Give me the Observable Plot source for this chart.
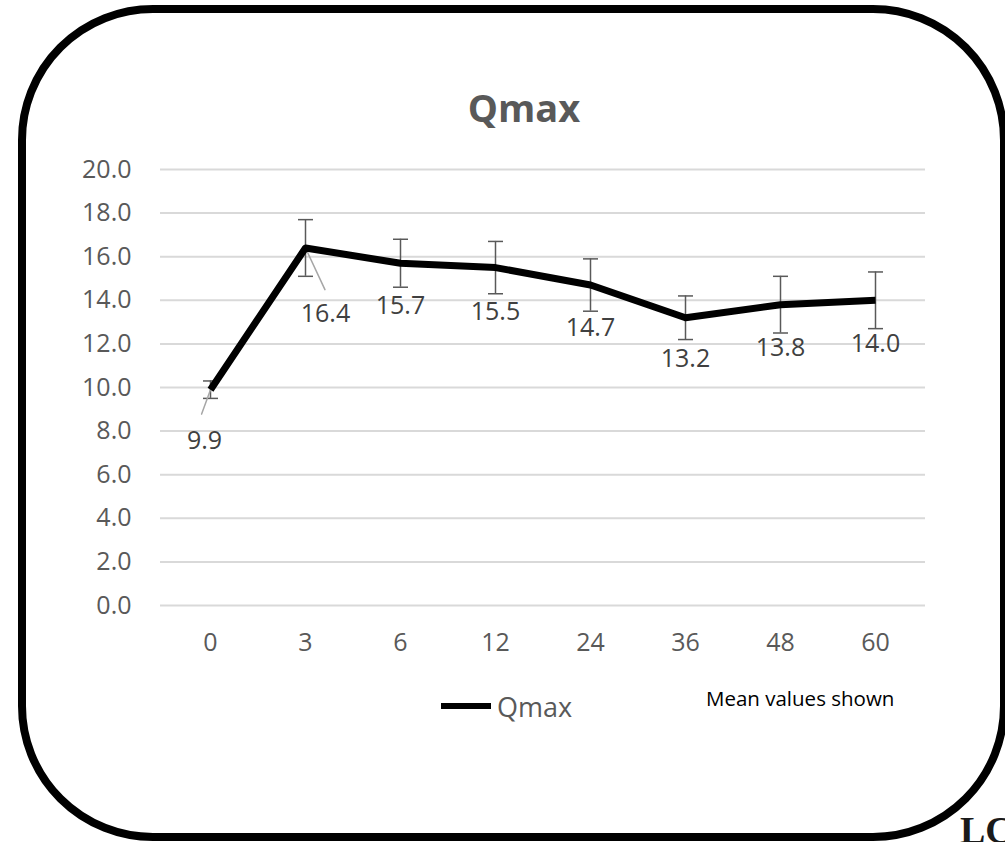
<!DOCTYPE html>
<html>
<head>
<meta charset="utf-8">
<script src="https://cdn.jsdelivr.net/npm/d3@7"></script>
<script src="https://cdn.jsdelivr.net/npm/@observablehq/plot@0.6"></script>
<style>
  html, body { margin: 0; padding: 0; background: #fff; }
  #page { position: relative; width: 1005px; height: 842px; overflow: hidden; background: #fff; font-family: "Open Sans", sans-serif; }
  #frame { position: absolute; left: 18px; top: 5px; width: 990px; height: 836px; box-sizing: border-box; border: 8px solid #000; border-radius: 135px; }
  #title { position: absolute; left: 0; width: 1048px; top: 88px; text-align: center; font-size: 38px; line-height: 1; font-weight: 700; color: #595959; }
  #chart { position: absolute; left: 0; top: 140px; }
  #legend-line { position: absolute; left: 441px; top: 703px; width: 50px; height: 6px; background: #000; }
  #legend-text { position: absolute; left: 497px; top: 693px; font-size: 27px; line-height: 1; color: #595959; }
  #note { position: absolute; left: 706px; top: 688px; font-size: 20.5px; line-height: 1; color: #000; }
  #corner { position: absolute; left: 960px; top: 811px; font-family: "Liberation Serif", serif; font-weight: 700; font-size: 38px; line-height: 1; color: #1a1a1a; }
</style>
</head>
<body>
<div id="page">
  <div id="frame"></div>
  <div id="title">Qmax</div>
  <div id="chart"></div>
  <div id="legend-line"></div>
  <div id="legend-text">Qmax</div>
  <div id="note">Mean values shown</div>
  <div id="corner">LC</div>
</div>
<script>
// ---- data ----
const months = ["0", "3", "6", "12", "24", "36", "48", "60"];
const qmax = [9.9, 16.4, 15.7, 15.5, 14.7, 13.2, 13.8, 14.0];
const errors = [0.4, 1.3, 1.1, 1.2, 1.2, 1.0, 1.3, 1.3];
const yTicks = [0, 2, 4, 6, 8, 10, 12, 14, 16, 18, 20];

// ---- label placement (styling, pixels) ----
const labelDx = [-6, 20, 0, 0, 0, 0, 0, 0];
const labelDy = [51, 66, 43, 44, 43, 41, 43, 44];

const data = months.map((m, i) => ({
  month: m, value: qmax[i], err: errors[i], dx: labelDx[i], dy: labelDy[i]
}));

const capSymbol = {
  draw(ctx) { ctx.moveTo(-7.5, 0); ctx.lineTo(7.5, 0); }
};
const plainLine = {
  draw(ctx, l) { ctx.moveTo(0, 0); ctx.lineTo(0, -l); }
};

const chart = Plot.plot({
  width: 1005,
  height: 540,
  marginTop: 29,
  marginBottom: 75,
  marginLeft: 160,
  marginRight: 80,
  style: { fontFamily: "Open Sans, sans-serif", fontSize: "25px", color: "#595959", background: "transparent", overflow: "visible" },
  x: { type: "point", domain: months, padding: 0.5, label: null },
  y: { domain: [0, 20], label: null },
  marks: [
    Plot.ruleY(yTicks, { stroke: "#d9d9d9", strokeWidth: 2 }),
    Plot.axisY({ ticks: yTicks, tickFormat: d => d.toFixed(1), tickSize: 0, tickPadding: 29, label: null }),
    Plot.axisX({ tickSize: 0, tickPadding: 28, label: null }),
    Plot.ruleX(data, { x: "month", y1: d => d.value - d.err, y2: d => d.value + d.err, stroke: "#595959", strokeWidth: 1.5 }),
    Plot.dot(data, { x: "month", y: d => d.value - d.err, symbol: capSymbol, stroke: "#595959", strokeWidth: 1.5, fill: "none", r: 5 }),
    Plot.dot(data, { x: "month", y: d => d.value + d.err, symbol: capSymbol, stroke: "#595959", strokeWidth: 1.5, fill: "none", r: 5 }),
    // leader lines for the two displaced labels
    Plot.vector(data.slice(0, 1), { x: "month", y: "value", length: 26, rotate: 200, anchor: "start", shape: plainLine, stroke: "#a6a6a6", strokeWidth: 1.5 }),
    Plot.vector(data.slice(1, 2), { x: "month", y: "value", length: 46, rotate: 155, anchor: "start", shape: plainLine, stroke: "#a6a6a6", strokeWidth: 1.5 }),
    Plot.line(data, { x: "month", y: "value", stroke: "#000", strokeWidth: 7, strokeLinejoin: "round", strokeLinecap: "butt" }),
    Plot.text(data, { x: "month", y: "value", text: d => d.value.toFixed(1), fill: "#404040", fontSize: 25 })
  ]
});
document.getElementById("chart").appendChild(chart);

// apply per-label offsets (styling only)
const texts = chart.querySelectorAll("g[aria-label='text'] text");
texts.forEach((t, i) => {
  const d = data[i];
  t.setAttribute("transform", (t.getAttribute("transform") || "") + ` translate(${d.dx},${d.dy})`);
});
</script>
</body>
</html>
